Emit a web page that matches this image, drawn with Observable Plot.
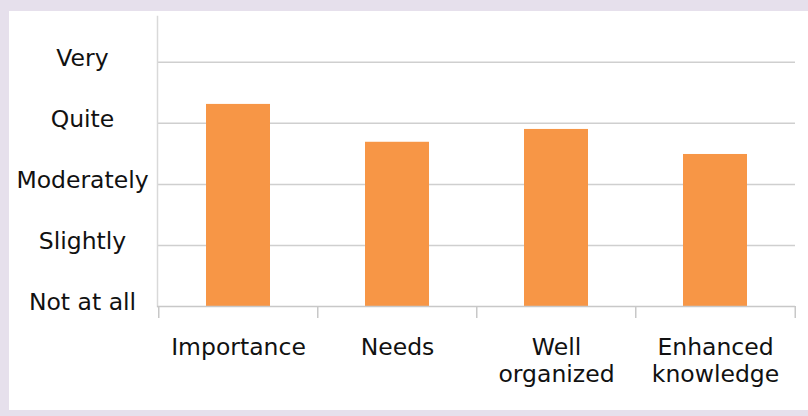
<!DOCTYPE html>
<html>
<head>
<meta charset="utf-8">
<script src="https://cdn.jsdelivr.net/npm/d3@7"></script>
<script src="https://cdn.jsdelivr.net/npm/@observablehq/plot@0.6"></script>
<style>
  html, body { margin: 0; padding: 0; background: #e6e0ec; }
  #panel { position: absolute; left: 9px; top: 11px; width: 799px; height: 399px; background: #ffffff; }
  svg { display: block; }
</style>
</head>
<body>
<div id="panel"></div>
<script>
const categories = ["Importance", "Needs", "Well organized", "Enhanced knowledge"];
const categoryLabels = ["Importance", "Needs", "Well\norganized", "Enhanced\nknowledge"];
const values = [4.31, 3.69, 3.90, 3.49];
const levelValues = [1, 2, 3, 4, 5];
const levelLabels = ["Not at all", "Slightly", "Moderately", "Quite", "Very"];

const data = categories.map((c, i) => ({category: c, label: categoryLabels[i], value: values[i]}));
const levels = levelValues.map((v, i) => ({v, label: levelLabels[i]}));

const W = 799, H = 399, mL = 148, mR = 13, mT = 5, mB = 104;
const step = (W - mL - mR) / categories.length;

const chart = Plot.plot({
  width: W,
  height: H,
  marginLeft: mL,
  marginRight: mR,
  marginTop: mT,
  marginBottom: mB,
  style: {fontFamily: "DejaVu Sans, Verdana, sans-serif", fontSize: "23.5px", color: "#111", background: "transparent"},
  x: {domain: categories, paddingInner: 0.6, paddingOuter: 0.3, axis: null},
  y: {domain: [1, 5.75], axis: null},
  marks: [
    Plot.ruleY(levelValues.slice(1), {stroke: "#cfcfcf", strokeWidth: 1.5}),
    Plot.frame({anchor: "left", stroke: "#d9d9d9", strokeWidth: 1.5}),
    Plot.rectY(data, {x: "category", y1: 1, y2: "value", fill: "#f79646"}),
    Plot.ruleY([1], {stroke: "#c8c8c8", strokeWidth: 1.5}),
    Plot.ruleX(categories, {x: d => d, dx: -step / 2, y1: 1, y2: 1 - 12 / 61, stroke: "#c8c8c8", strokeWidth: 1.5}),
    Plot.ruleX(categories.slice(-1), {x: d => d, dx: step / 2, y1: 1, y2: 1 - 12 / 61, stroke: "#c8c8c8", strokeWidth: 1.5}),
    Plot.text(levels, {y: "v", text: "label", frameAnchor: "left", dx: -75, dy: -4, textAnchor: "middle", fontSize: 23.5, fill: "#111"}),
    Plot.text(data, {x: "category", y: 1, text: "label", lineAnchor: "top", dy: 29, lineHeight: 1.15, textAnchor: "middle", fontSize: 23.5, fill: "#111"})
  ]
});
document.getElementById("panel").appendChild(chart);
</script>
</body>
</html>
